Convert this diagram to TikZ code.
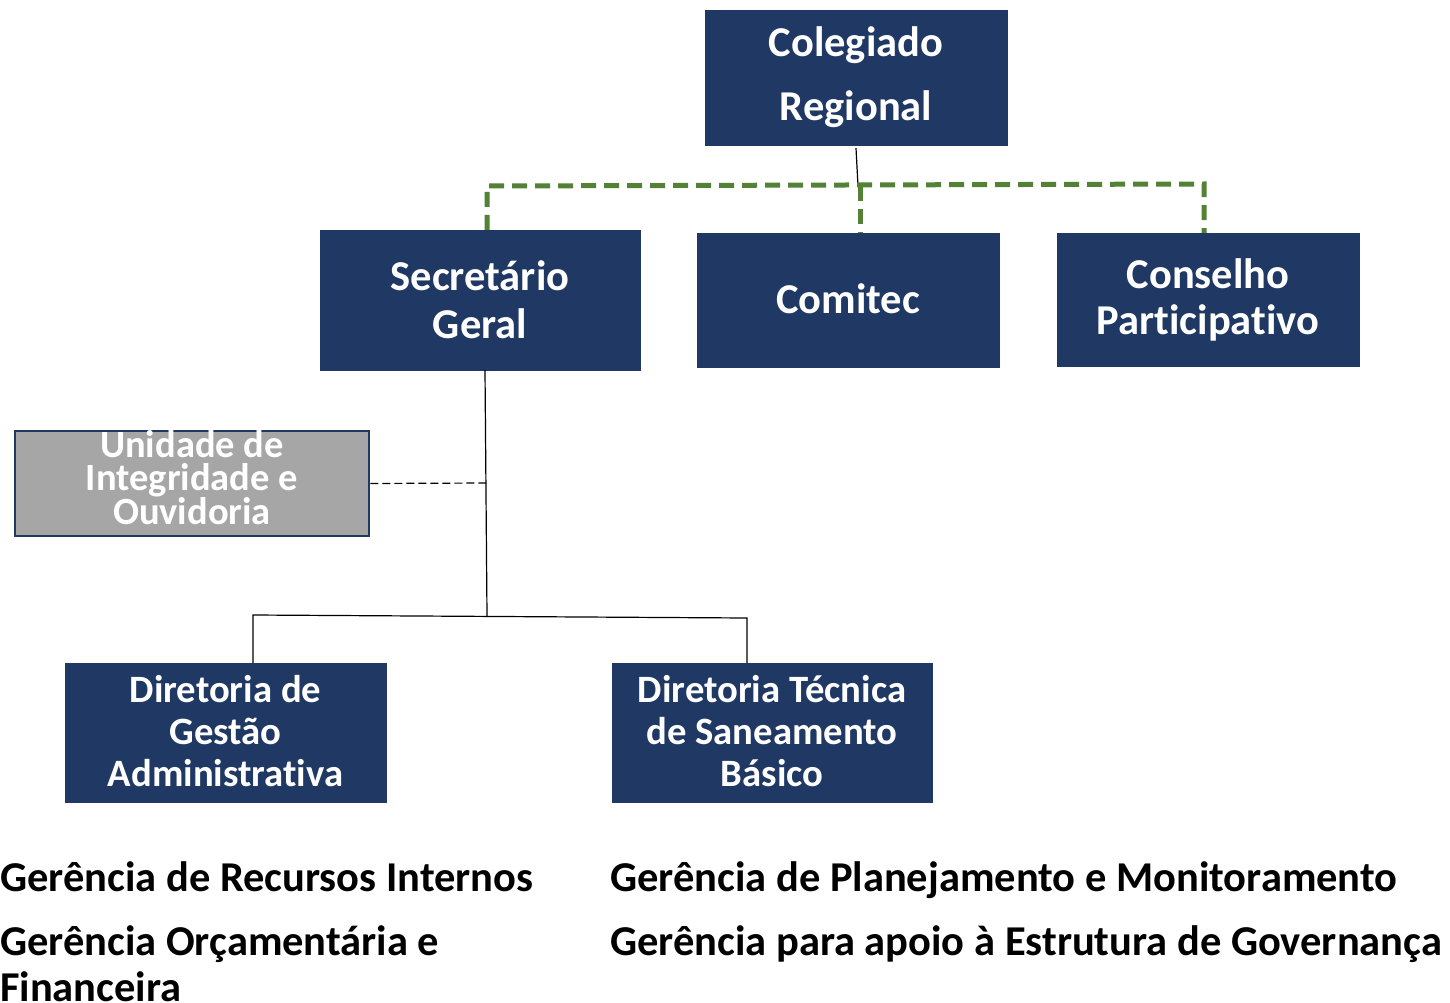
\documentclass[tikz,border=0pt]{standalone}
\usepackage{fontspec}
\setmainfont[Ligatures=NoCommon]{Carlito}
\definecolor{navy}{HTML}{203864}
\definecolor{grayfill}{HTML}{A6A6A6}
\definecolor{dgreen}{HTML}{538135}
\tikzset{
  orgbox/.style={fill=navy, draw=navy, text=white, align=center, inner sep=0pt,
    font=\bfseries\fontsize{42.5}{46}\selectfont},
  graybox/.style={fill=grayfill, draw=navy, line width=2.5pt, text=white, align=center, inner sep=0pt,
    font=\bfseries\fontsize{38.5}{33}\selectfont},
  plain/.style={text=black, align=left, inner sep=0pt, anchor=base west,
    font=\bfseries\fontsize{42.5}{46}\selectfont},
  conn/.style={draw=black, line width=1.2pt},
  gconn/.style={draw=dgreen, line width=5pt, dash pattern=on 15pt off 8pt},
}
\begin{document}
\begin{tikzpicture}[x=1pt,y=-1pt]
\useasboundingbox (0,0) rectangle (1450,1003);
% boxes
\node[orgbox, minimum width=302pt, minimum height=135pt, font=\bfseries\fontsize{42.5}{64}\selectfont] (col) at (856,77.5) {Colegiado\\Regional};
\node[orgbox, minimum width=320pt, minimum height=140pt] (sec) at (480,300) {\raisebox{2pt}{Secretário}\\Geral};
\node[orgbox, minimum width=302pt, minimum height=134pt] (com) at (848,300) {\raisebox{2pt}{Comitec}};
\node[orgbox, minimum width=302pt, minimum height=133pt] (con) at (1208,299.5) {Conselho\\Participativo};
\node[graybox, minimum width=354pt, minimum height=105pt] (uni) at (192,483.5) {};
\node[graybox, draw=none, fill=none] (unitext) at (192,477.5) {Unidade de\\Integridade e\\Ouvidoria};
\node[orgbox, minimum width=321pt, minimum height=139pt] (dga) at (225.5,732.5) {};
\node[orgbox, fill=none, draw=none, font=\bfseries\fontsize{38.7}{42}\selectfont] (dgatext) at (225.5,731) {Diretoria de\\Gestão\\Administrativa};
\node[orgbox, minimum width=320pt, minimum height=139pt] (dts) at (772,732.5) {};
\node[orgbox, fill=none, draw=none, font=\bfseries\fontsize{38.7}{42}\selectfont] (dtstext) at (772,731) {Diretoria Técnica\\de Saneamento\\Básico};
% bottom texts
\node[plain] (g1) at (0,891) {Gerência de Recursos Internos};
\node[plain] (g2) at (0,955) {Gerência Orçamentária e};
\node[plain] (g2b) at (0,1001) {Financeira};
\node[plain] (g3) at (610,891) {Gerência de Planejamento e Monitoramento};
\node[plain] (g4) at (610,955) {Gerência para apoio à Estrutura de Governança};
% connectors
\coordinate (gm) at (858,186);
\draw[conn] (col.south) ++(0,3) -- (gm);
\draw[gconn] (sec.north -| 487,0) -- (487,186) -- (1204,184) -- (con.north -| 1204,0);
\draw[gconn] (860,186) -- (com.north -| 860,0);
\coordinate (sm) at (487,616);
\draw[conn] (sec.south -| 485,0) -- (sm);
\draw[conn] (dga.north -| 253,0) -- (253,615) -- (747,618) -- (dts.north -| 747,0);
\draw[conn, dash pattern=on 8pt off 4pt] (uni.east) -- (486,483);
\end{tikzpicture}
\end{document}
